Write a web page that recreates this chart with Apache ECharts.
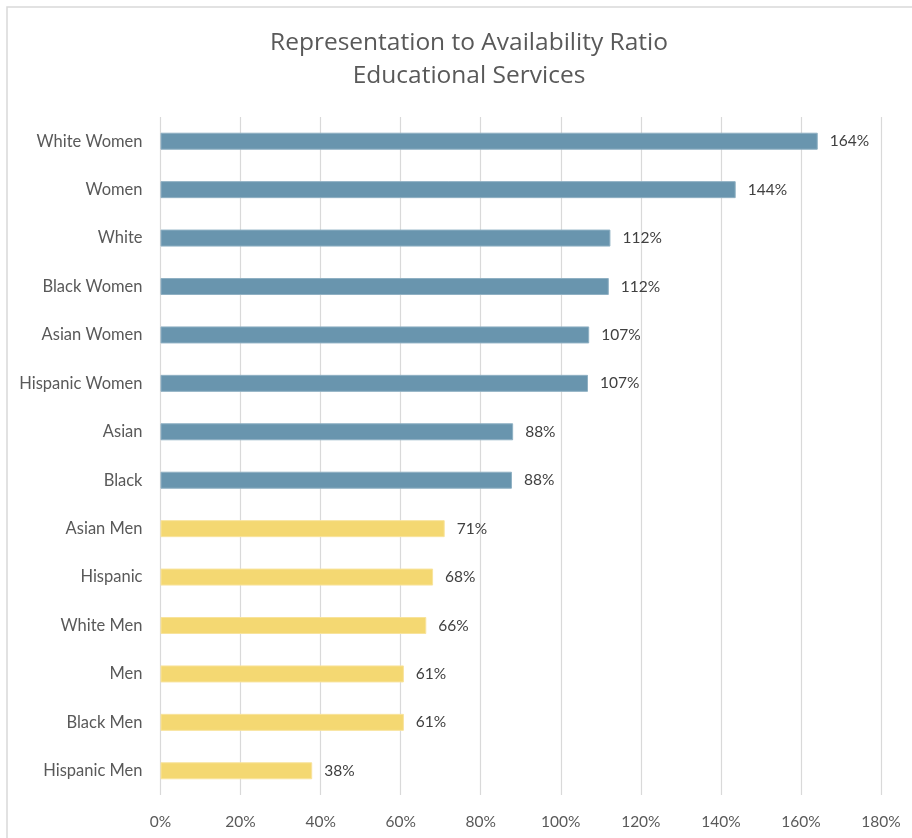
<!DOCTYPE html>
<html>
<head>
<meta charset="utf-8">
<script src="https://cdn.jsdelivr.net/npm/echarts@6/dist/echarts.min.js"></script>
<style>
html,body{margin:0;padding:0;background:#fff;}
#chart{width:912px;height:838px;}
</style>
</head>
<body>
<div id="chart"></div>
<script>
var titleLines = ['Representation to Availability Ratio', 'Educational Services'];
var categories = ['White Women', 'Women', 'White', 'Black Women', 'Asian Women', 'Hispanic Women', 'Asian', 'Black', 'Asian Men', 'Hispanic', 'White Men', 'Men', 'Black Men', 'Hispanic Men'];
var values = [164.2, 143.7, 112.4, 112.0, 107.1, 106.8, 88.1, 87.8, 71.0, 68.1, 66.4, 60.8, 60.8, 37.9];
var groupColors = ['blue','blue','blue','blue','blue','blue','blue','blue','yellow','yellow','yellow','yellow','yellow','yellow'];
var xTicks = [0, 20, 40, 60, 80, 100, 120, 140, 160, 180];

var palette = {
  blue: { fill: '#6995ae', border: '#8fb0c3' },
  yellow: { fill: '#f4d872', border: '#f8e39c' }
};

var chart = echarts.init(document.getElementById('chart'), null, { renderer: 'canvas' });

var data = values.map(function (v, i) {
  var c = palette[groupColors[i]];
  return { value: v, itemStyle: { color: c.fill, borderColor: c.border, borderWidth: 1 } };
});

var option = {
  backgroundColor: '#ffffff',
  animation: false,
  graphic: [{
    type: 'rect',
    shape: { x: 7, y: 7, width: 1200, height: 1200 },
    style: { fill: 'none', stroke: '#d9d9d9', lineWidth: 1.5 },
    silent: true,
    z: -10
  }],
  title: {
    text: titleLines.join('\n'),
    left: 'center',
    top: 22,
    textAlign: 'center',
    textStyle: {
      fontFamily: '"Liberation Sans Narrow", "Open Sans", sans-serif',
      fontSize: 24.5,
      fontWeight: 'normal',
      color: '#595959',
      lineHeight: 33
    }
  },
  grid: { left: 160.5, right: 31, top: 117, bottom: 43, containLabel: false },
  xAxis: {
    type: 'value',
    min: xTicks[0],
    max: xTicks[xTicks.length - 1],
    interval: xTicks[1] - xTicks[0],
    axisLine: { show: false },
    axisTick: { show: false },
    splitLine: { show: true, lineStyle: { color: '#d9d9d9', width: 1.2 } },
    axisLabel: {
      margin: 19,
      color: '#595959',
      fontFamily: 'Lato, "Open Sans", sans-serif',
      fontSize: 15.5,
      formatter: function (v) { return v + '%'; }
    }
  },
  yAxis: {
    type: 'category',
    data: categories,
    inverse: true,
    axisLine: { show: false },
    axisTick: { show: false },
    axisLabel: {
      margin: 18,
      color: '#595959',
      fontFamily: 'Lato, "Open Sans", sans-serif',
      fontSize: 16.5
    }
  },
  series: [{
    type: 'bar',
    data: data,
    barWidth: 17,
    label: {
      show: true,
      position: 'right',
      distance: 12,
      color: '#404040',
      fontFamily: 'Lato, "Open Sans", sans-serif',
      fontSize: 15.5,
      formatter: function (p) { return Math.round(p.value) + '%'; }
    }
  }]
};

chart.setOption(option);
// nudge title center to match reference (~464px)
chart.setOption({ title: { left: 464 } });
</script>
</body>
</html>
